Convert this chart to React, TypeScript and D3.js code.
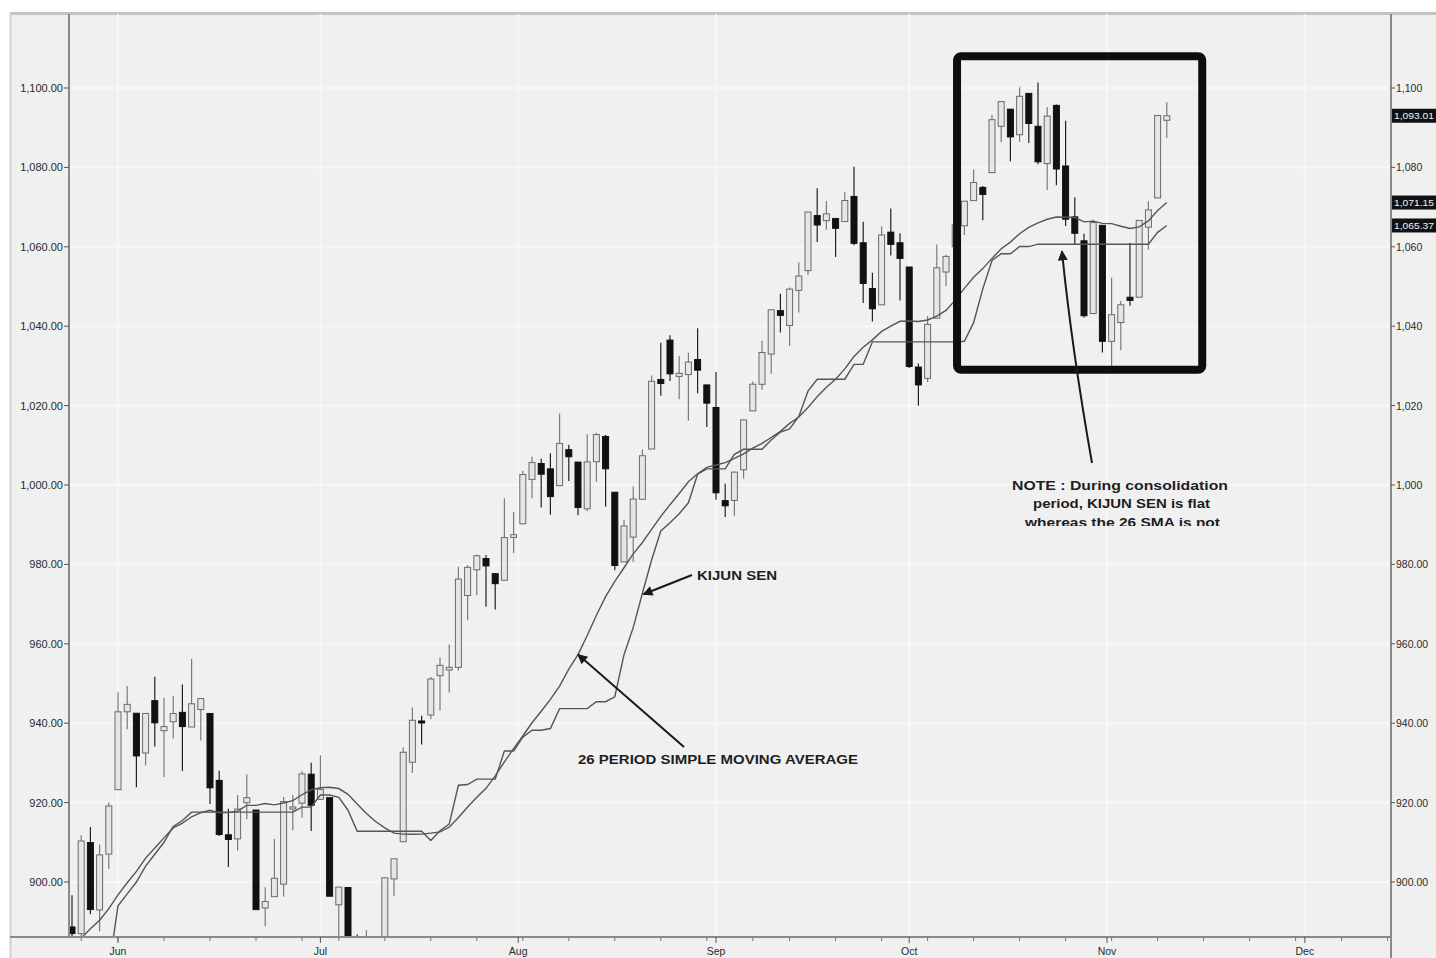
import React from 'react';
import * as d3 from 'd3';

// ---------- DATA (daily candles, late May to 10 Nov) ----------
const opens = [888.68, 887.0, 909.95, 892.96, 907.02, 923.26, 942.87, 942.51, 932.49, 945.67, 938.12, 940.35, 942.73, 939.04, 943.44, 942.45, 925.6, 911.89, 910.86, 919.96, 918.13, 893.46, 896.31, 899.45, 918.84, 919.86, 927.15, 920.82, 921.24, 894.27, 898.6, 881.9, 881.28, 880.03, 879.57, 900.77, 910.15, 930.17, 940.56, 942.07, 951.97, 953.4, 954.07, 972.16, 978.63, 981.48, 977.66, 976.01, 986.8, 990.22, 1001.41, 1005.41, 1004.06, 999.83, 1008.89, 1005.77, 994.0, 1005.86, 1012.23, 998.18, 980.62, 986.88, 996.41, 1009.06, 1026.59, 1036.5, 1027.35, 1027.81, 1031.62, 1025.21, 1019.52, 996.07, 996.12, 1003.84, 1018.67, 1025.36, 1032.99, 1043.92, 1040.15, 1049.03, 1053.99, 1067.87, 1066.6, 1067.14, 1066.35, 1072.69, 1061.02, 1049.48, 1045.38, 1063.69, 1061.02, 1054.91, 1029.71, 1026.87, 1042.02, 1053.65, 1060.03, 1065.28, 1071.63, 1074.96, 1078.68, 1090.36, 1094.67, 1088.22, 1098.64, 1090.36, 1080.96, 1095.62, 1080.36, 1067.54, 1061.51, 1043.19, 1065.41, 1036.18, 1040.92, 1047.3, 1047.3, 1064.95, 1072.31, 1091.86];
const highs = [896.65, 911.76, 913.84, 909.45, 920.02, 947.77, 949.38, 942.51, 942.47, 951.69, 946.33, 946.92, 949.77, 956.23, 946.3, 942.45, 928.0, 918.44, 921.93, 927.09, 918.13, 898.69, 910.85, 921.42, 922.0, 927.99, 930.01, 931.92, 921.24, 898.72, 898.6, 886.8, 887.86, 883.57, 901.05, 905.84, 933.95, 943.96, 941.89, 951.62, 956.53, 959.83, 979.42, 979.79, 982.49, 982.35, 977.76, 996.68, 993.18, 1003.61, 1007.12, 1006.64, 1008.0, 1018.0, 1010.12, 1005.77, 1012.78, 1013.14, 1012.6, 998.18, 991.2, 999.61, 1008.92, 1027.59, 1035.82, 1037.75, 1032.47, 1033.33, 1039.47, 1025.21, 1028.45, 1000.34, 1003.43, 1016.48, 1026.07, 1036.34, 1044.14, 1048.18, 1049.74, 1056.04, 1068.76, 1074.77, 1071.52, 1067.28, 1073.81, 1080.15, 1066.29, 1053.47, 1065.13, 1069.62, 1063.4, 1054.91, 1030.6, 1042.58, 1060.55, 1058.02, 1070.67, 1071.51, 1079.46, 1075.3, 1093.17, 1096.56, 1094.67, 1100.17, 1098.64, 1101.36, 1095.21, 1095.83, 1091.75, 1072.48, 1063.26, 1066.83, 1065.41, 1052.18, 1046.36, 1061.0, 1066.65, 1071.48, 1093.19, 1096.42];
const lows = [883.75, 881.46, 891.87, 887.6, 903.27, 923.26, 938.46, 923.85, 929.32, 934.13, 926.44, 936.15, 927.97, 939.04, 935.66, 919.65, 911.6, 903.78, 907.94, 915.8, 893.04, 888.86, 896.31, 896.27, 913.03, 916.18, 912.86, 920.82, 896.42, 886.36, 879.93, 869.32, 878.45, 872.81, 875.32, 896.5, 910.15, 927.45, 934.65, 940.99, 943.22, 947.75, 953.27, 965.95, 972.29, 969.35, 968.65, 976.01, 982.85, 990.22, 996.68, 994.31, 992.49, 999.83, 1000.99, 992.4, 993.36, 1000.82, 994.6, 978.51, 980.62, 980.62, 996.39, 1009.06, 1022.48, 1026.21, 1021.57, 1016.2, 1023.13, 1014.62, 996.28, 991.97, 992.25, 1001.65, 1018.67, 1023.97, 1028.04, 1038.4, 1035.0, 1043.42, 1052.87, 1061.2, 1064.27, 1057.46, 1066.35, 1060.39, 1045.85, 1041.17, 1045.38, 1057.83, 1046.47, 1029.45, 1019.95, 1025.92, 1042.02, 1050.1, 1060.03, 1063.0, 1071.63, 1066.71, 1078.68, 1086.41, 1081.53, 1086.48, 1086.16, 1080.77, 1074.31, 1075.49, 1065.23, 1060.62, 1042.19, 1043.19, 1033.38, 1029.38, 1033.94, 1045.15, 1047.3, 1059.32, 1072.31, 1087.4];
const closes = [887.0, 910.33, 893.06, 906.83, 919.14, 942.87, 944.74, 931.76, 942.46, 940.09, 939.14, 942.43, 939.15, 944.89, 946.21, 923.72, 911.97, 910.71, 918.37, 921.23, 893.04, 895.1, 900.94, 920.26, 918.9, 927.23, 919.32, 923.33, 896.42, 898.72, 881.03, 879.56, 882.68, 879.13, 901.05, 905.84, 932.68, 940.74, 940.38, 951.13, 954.58, 954.07, 976.29, 979.26, 982.18, 979.62, 975.15, 986.75, 987.48, 1002.63, 1005.65, 1002.72, 997.08, 1010.48, 1007.1, 994.35, 1005.81, 1012.73, 1004.09, 979.73, 989.67, 996.46, 1007.37, 1026.13, 1025.57, 1028.0, 1028.12, 1030.98, 1028.93, 1020.62, 998.04, 994.75, 1003.24, 1016.4, 1025.39, 1033.37, 1044.14, 1042.73, 1049.34, 1052.63, 1068.76, 1065.49, 1068.3, 1064.66, 1071.66, 1060.87, 1050.78, 1044.38, 1062.98, 1060.61, 1057.08, 1029.85, 1025.21, 1040.46, 1054.72, 1057.58, 1065.48, 1071.49, 1076.19, 1073.19, 1092.02, 1096.56, 1087.68, 1097.91, 1091.06, 1081.4, 1092.91, 1079.6, 1066.95, 1063.41, 1042.63, 1066.11, 1036.19, 1042.88, 1045.41, 1046.5, 1066.63, 1069.3, 1093.08, 1093.01];

// 26 period simple moving average (values per candle)
const sma26 = [884.3, 885.86, 888.2, 890.38, 893.29, 896.78, 899.8, 902.66, 906.02, 908.57, 911.12, 913.62, 914.85, 916.43, 917.45, 918.08, 917.42, 917.48, 917.86, 919.3, 919.29, 919.76, 919.43, 919.89, 920.49, 921.98, 923.23, 923.73, 923.86, 923.54, 922.08, 919.64, 917.26, 915.23, 913.64, 912.32, 912.07, 912.01, 912.06, 912.3, 912.62, 913.78, 916.26, 918.9, 921.35, 923.6, 926.75, 930.28, 933.61, 936.78, 940.11, 943.02, 946.01, 949.36, 953.61, 957.29, 962.09, 967.21, 971.88, 975.75, 979.16, 982.65, 985.52, 988.8, 992.08, 995.04, 997.86, 1000.82, 1002.85, 1004.44, 1005.05, 1005.63, 1006.71, 1007.85, 1009.31, 1010.49, 1011.97, 1013.51, 1015.52, 1017.14, 1019.51, 1022.25, 1024.65, 1026.65, 1029.25, 1032.37, 1034.72, 1036.56, 1038.7, 1040.03, 1041.24, 1041.31, 1041.2, 1041.56, 1042.56, 1043.98, 1046.57, 1049.52, 1052.33, 1054.51, 1057.08, 1059.51, 1061.18, 1063.3, 1064.91, 1066.01, 1066.94, 1067.49, 1067.43, 1067.39, 1066.27, 1066.47, 1065.91, 1065.85, 1065.18, 1064.63, 1065.0, 1066.52, 1069.13, 1071.15];

// Kijun sen (26 period) values per candle
const kijun = [875, 875, 876, 876, 878, 894, 897, 900, 904, 907, 910, 914, 915.5, 917.6, 917.6, 917.6, 917.6, 917.6, 917.6, 917.6, 917.6, 917.6, 917.6, 917.6, 917.6, 918.85, 918.85, 921.92, 921.92, 921.3, 918.08, 912.78, 912.78, 912.78, 912.78, 912.78, 912.78, 912.78, 912.78, 910.47, 912.93, 914.58, 924.37, 924.56, 925.91, 925.91, 925.91, 933.0, 933.0, 936.47, 938.22, 938.22, 938.66, 943.66, 943.66, 943.66, 943.66, 945.41, 945.41, 946.66, 957.25, 964.08, 972.73, 981.12, 988.41, 990.49, 992.75, 995.51, 1002.71, 1004.06, 1004.06, 1004.06, 1007.74, 1008.99, 1008.99, 1008.99, 1011.33, 1013.35, 1014.13, 1017.28, 1023.64, 1026.64, 1026.64, 1026.64, 1026.64, 1030.39, 1030.39, 1036.06, 1036.06, 1036.06, 1036.06, 1036.06, 1036.06, 1036.06, 1036.06, 1036.06, 1036.06, 1036.2, 1040.9, 1049.41, 1056.56, 1058.26, 1058.26, 1060.06, 1060.06, 1060.66, 1060.66, 1060.66, 1060.66, 1060.66, 1060.66, 1060.66, 1060.66, 1060.66, 1060.66, 1060.66, 1060.66, 1060.66, 1063.64, 1065.37];

const yTicks = [900, 920, 940, 960, 980, 1000, 1020, 1040, 1060, 1080, 1100];
const monthLabels = ['Jun', 'Jul', 'Aug', 'Sep', 'Oct', 'Nov', 'Dec'];
const monthIndex = [5, 27, 48.5, 70, 91, 112.5, 134];
const weekIndex = [1, 5, 10, 15, 20, 25, 29, 34, 39, 44, 49, 54, 59, 64, 69, 74, 78, 83, 88, 93, 98, 103, 108, 113, 118, 123, 128, 133, 138, 143];
const lastValues = [closes[closes.length - 1], sma26[sma26.length - 1], kijun[kijun.length - 1]];

// ---------- LAYOUT ----------
const W = 1436;
const H = 958;
const L = 69;
const R = 1391;
const T = 14;
const B = 937;

const x = d3.scaleLinear().domain([0, 134]).range([72, 72 + 9.2 * 134]);
const y = d3.scaleLinear().domain([900, 1100]).range([882, 88]);

const fmtL = (v: number) => d3.format(',.2f')(v);
const fmtR = (v: number) => (v >= 1000 ? d3.format(',.0f')(v) : d3.format(',.2f')(v));

const lineGen = d3
  .line<number>()
  .x((_, i) => x(i))
  .y((d) => y(d));

export default function App() {
  const font = "'Liberation Sans', Arial, sans-serif";
  const bw = 6;

  // annotation anchors (from the data scales)
  const smaTip = [x(55), y(sma26[55])];
  const kijTip = [x(62) + 1, y(kijun[62]) + 1];
  const noteTip = [x(107.6), y(kijun[108]) + 7];

  return (
    <div style={{ position: 'absolute', left: 0, top: 0 }}>
      <svg width={W} height={H} style={{ display: 'block' }} fontFamily={font}>
        <defs>
          <clipPath id="plot">
            <rect x={L + 1} y={T} width={R - L - 2} height={B - T} />
          </clipPath>
          <clipPath id="noteclip">
            <rect x={900} y={400} width={400} height={126} />
          </clipPath>
          <marker id="ah" viewBox="0 0 10 10" refX="9" refY="5" markerWidth="7" markerHeight="5" orient="auto-start-reverse" markerUnits="strokeWidth">
            <path d="M0,0 L10,5 L0,10 z" fill="#1a1a1a" />
          </marker>
        </defs>

        <rect x={0} y={0} width={W} height={H} fill="#ffffff" />
        <rect x={10} y={13} width={W - 10} height={H - 13} fill="#f0f0f0" />
        <line x1={10} y1={13.5} x2={W} y2={13.5} stroke="#c4c4c4" strokeWidth={3} />
        <line x1={10.5} y1={13} x2={10.5} y2={H} stroke="#d0d0d0" strokeWidth={2} />

        {/* grid */}
        {yTicks.map((t) => (
          <line key={'gy' + t} x1={L} x2={R} y1={y(t)} y2={y(t)} stroke="#f7f7f7" strokeWidth={2} />
        ))}
        {monthIndex.map((m, k) => (
          <line key={'gx' + k} x1={x(m)} x2={x(m)} y1={T} y2={B} stroke="#f7f7f7" strokeWidth={2} />
        ))}

        {/* candles */}
        <g clipPath="url(#plot)">
          {closes.map((c, i) => {
            const o = opens[i];
            const up = c >= o;
            const top = y(Math.max(o, c));
            const h = Math.max(2, Math.abs(y(o) - y(c)));
            return (
              <g key={'c' + i}>
                <line x1={x(i)} x2={x(i)} y1={y(highs[i])} y2={y(lows[i])} stroke={up ? '#7a7a7a' : '#222'} strokeWidth={1.2} />
                <rect
                  x={x(i) - bw / 2}
                  y={top}
                  width={bw}
                  height={h}
                  fill={up ? '#e6e6e6' : '#111'}
                  stroke={up ? '#6a6a6a' : '#111'}
                  strokeWidth={1}
                />
              </g>
            );
          })}
          <path d={lineGen(sma26) || ''} fill="none" stroke="#555" strokeWidth={1.4} />
          <path d={lineGen(kijun) || ''} fill="none" stroke="#555" strokeWidth={1.4} />
        </g>

        {/* axes */}
        <line x1={L} x2={L} y1={T} y2={B} stroke="#8a8a8a" strokeWidth={2} />
        <line x1={R} x2={R} y1={T} y2={H} stroke="#8a8a8a" strokeWidth={2} />
        <line x1={10} x2={R} y1={B} y2={B} stroke="#8a8a8a" strokeWidth={2} />

        {yTicks.map((t) => (
          <g key={'yl' + t}>
            <line x1={L - 5} x2={L} y1={y(t)} y2={y(t)} stroke="#555" strokeWidth={1} />
            <text x={L - 6} y={y(t) + 4} textAnchor="end" fontSize={11} fill="#2a2a2a">
              {fmtL(t)}
            </text>
            <line x1={R} x2={R + 4} y1={y(t)} y2={y(t)} stroke="#555" strokeWidth={1} />
            <text x={R + 5} y={y(t) + 4} fontSize={10.5} fill="#2a2a2a">
              {fmtR(t)}
            </text>
          </g>
        ))}

        {lastValues.map((v, k) => (
          <g key={'lv' + k}>
            <rect x={R + 1} y={y(v) - 7} width={W - R - 1} height={14} fill="#111" />
            <text x={R + 3} y={y(v) + 3.5} fontSize={9} fill="#f2f2f2" textLength={40} lengthAdjust="spacingAndGlyphs">
              {fmtL(v)}
            </text>
          </g>
        ))}

        {weekIndex.map((w) => (
          <line key={'wt' + w} x1={x(w)} x2={x(w)} y1={B} y2={B + 4} stroke="#777" strokeWidth={1} />
        ))}
        {monthIndex.map((m, k) => (
          <g key={'ml' + k}>
            <line x1={x(m)} x2={x(m)} y1={B} y2={B + 6} stroke="#555" strokeWidth={1} />
            <text x={x(m)} y={B + 18} textAnchor="middle" fontSize={10.5} fill="#2a2a2a">
              {monthLabels[k]}
            </text>
          </g>
        ))}

        {/* consolidation box */}
        <rect x={x(96.2)} y={y(1108)} width={x(122.85) - x(96.2)} height={y(1029) - y(1108)} fill="none" stroke="#0d0d0d" strokeWidth={8} rx={4} />

        {/* annotations */}
        <line x1={684} y1={747} x2={smaTip[0]} y2={smaTip[1]} stroke="#1a1a1a" strokeWidth={2} markerEnd="url(#ah)" />
        <text x={578} y={764} fontSize={13} fontWeight="bold" fill="#1e1e1e" textLength={280} lengthAdjust="spacingAndGlyphs">
          26 PERIOD SIMPLE MOVING AVERAGE
        </text>
        <line x1={692} y1={575} x2={kijTip[0]} y2={kijTip[1]} stroke="#1a1a1a" strokeWidth={2} markerEnd="url(#ah)" />
        <text x={697} y={580} fontSize={13} fontWeight="bold" fill="#1e1e1e" textLength={80} lengthAdjust="spacingAndGlyphs">
          KIJUN SEN
        </text>
        <path d={`M1092,463 Q1072,350 ${noteTip[0]},${noteTip[1]}`} fill="none" stroke="#1a1a1a" strokeWidth={2} markerEnd="url(#ah)" />
        <g clipPath="url(#noteclip)" fontSize={13} fontWeight="bold" fill="#1e1e1e">
          <text x={1012} y={490} textLength={216} lengthAdjust="spacingAndGlyphs">NOTE : During consolidation</text>
          <text x={1033} y={508} textLength={177} lengthAdjust="spacingAndGlyphs">period, KIJUN SEN is flat</text>
          <text x={1025} y={527} textLength={195} lengthAdjust="spacingAndGlyphs">whereas the 26 SMA is not</text>
        </g>
      </svg>
    </div>
  );
}
